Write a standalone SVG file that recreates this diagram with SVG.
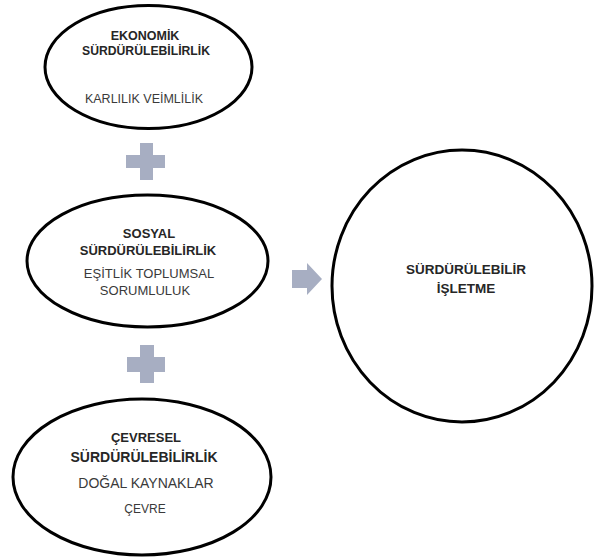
<svg xmlns="http://www.w3.org/2000/svg" width="597" height="558" viewBox="0 0 597 558">
  <style>
    .shape { fill: #ffffff; stroke: #000000; stroke-width: 3; }
    .t { font-family: "Liberation Sans", Arial, sans-serif; text-anchor: middle; }
    .title { font-weight: bold; fill: #262626; }
    .sub { font-weight: normal; fill: #3a3a3a; }
    .sym { fill: #a7aec2; }
  </style>
  <rect width="597" height="558" fill="#ffffff"/>

  <g id="connectors">
    <path class="sym" d="M140,143 H153 V155 H165 V168 H153 V180 H140 V168 H126 V155 H140 Z"/>
    <path class="sym" d="M140,345 H154 V357 H165 V372 H154 V383 H140 V372 H127 V357 H140 Z"/>
    <path class="sym" d="M292,270 H307 V263 L322,279 L307,295 V288 H292 Z"/>
  </g>

  <g id="ekonomik">
    <ellipse class="shape" cx="148.5" cy="67" rx="103.5" ry="61.5"/>
    <text class="t title" x="145" y="40" font-size="12.5">EKONOMİK</text>
    <text class="t title" x="146" y="55" font-size="12.2">SÜRDÜRÜLEBİLİRLİK</text>
    <text class="t sub" x="144" y="103" font-size="12.5">KARLILIK VEİMLİLİK</text>
  </g>

  <g id="sosyal">
    <ellipse class="shape" cx="147.5" cy="261" rx="120.5" ry="66"/>
    <text class="t title" x="149" y="238" font-size="13">SOSYAL</text>
    <text class="t title" x="148" y="255" font-size="13">SÜRDÜRÜLEBİLİRLİK</text>
    <text class="t sub" x="149" y="278" font-size="13">EŞİTLİK TOPLUMSAL</text>
    <text class="t sub" x="145" y="295" font-size="13">SORUMLULUK</text>
  </g>

  <g id="cevresel">
    <ellipse class="shape" cx="142" cy="477" rx="129" ry="78"/>
    <text class="t title" x="146" y="442" font-size="13">ÇEVRESEL</text>
    <text class="t title" x="144" y="462" font-size="14">SÜRDÜRÜLEBİLİRLİK</text>
    <text class="t sub" x="146" y="488" font-size="14" fill="#262626">DOĞAL KAYNAKLAR</text>
    <text class="t sub" x="145" y="513" font-size="12">ÇEVRE</text>
  </g>

  <g id="isletme">
    <ellipse class="shape" cx="462" cy="286" rx="130" ry="136"/>
    <text class="t title" x="466" y="274" font-size="13.5">SÜRDÜRÜLEBİLİR</text>
    <text class="t title" x="466" y="293" font-size="13.5">İŞLETME</text>
  </g>
</svg>
